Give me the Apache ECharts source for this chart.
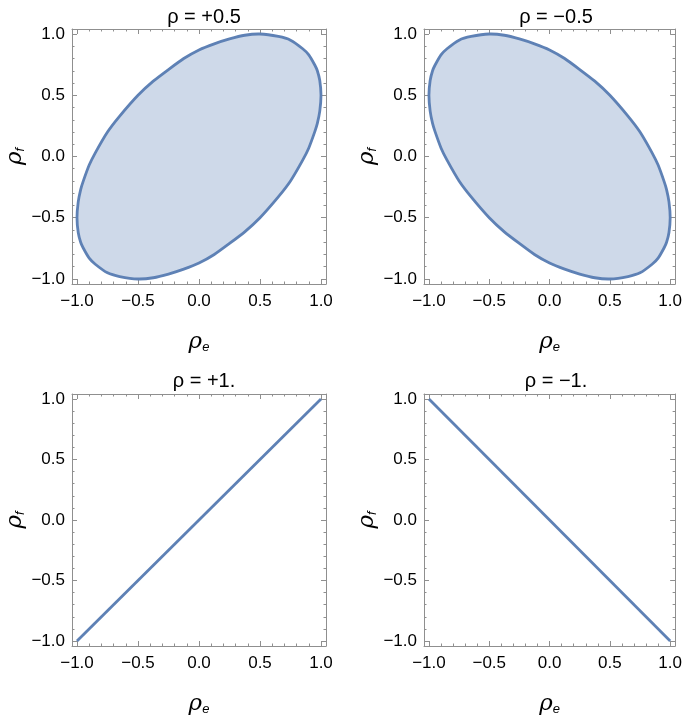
<!DOCTYPE html>
<html>
<head>
<meta charset="utf-8">
<script src="https://cdn.jsdelivr.net/npm/echarts@6/dist/echarts.min.js"></script>
<style>
html,body{margin:0;padding:0;background:#fff;}
#chart{width:685px;height:717px;}
</style>
</head>
<body>
<div id="chart"></div>
<script>
// ---- data ----
var panelTitles = ['\u03c1 = +0.5', '\u03c1 = \u22120.5', '\u03c1 = +1.', '\u03c1 = \u22121.'];
var majorTicks = [-1.0, -0.5, 0.0, 0.5, 1.0];
var minorTicks = [-0.9, -0.8, -0.7, -0.6, -0.4, -0.3, -0.2, -0.1, 0.1, 0.2, 0.3, 0.4, 0.6, 0.7, 0.8, 0.9];
// boundary of region, rho = +0.5  [rho_e, rho_f]
var ellipsePos = [[1.0,0.5],[0.99,0.62],[0.97,0.70],[0.95,0.745],[0.9,0.83],[0.85,0.88],[0.75,0.95],[0.65,0.98],[0.5,1.0],[0.375,0.99],[0.25,0.96],[0.125,0.92],[0,0.87],[-0.125,0.80],[-0.25,0.71],[-0.375,0.615],[-0.5,0.5],[-0.65,0.33],[-0.75,0.2],[-0.85,0.03],[-0.9,-0.07],[-0.95,-0.205],[-0.97,-0.27],[-0.99,-0.37],[-1.0,-0.5],[-0.99,-0.62],[-0.97,-0.70],[-0.95,-0.745],[-0.9,-0.83],[-0.85,-0.88],[-0.75,-0.95],[-0.65,-0.98],[-0.5,-1.0],[-0.375,-0.99],[-0.25,-0.96],[-0.125,-0.92],[0,-0.87],[0.125,-0.80],[0.25,-0.71],[0.375,-0.615],[0.5,-0.5],[0.65,-0.33],[0.75,-0.2],[0.85,-0.03],[0.9,0.07],[0.95,0.205],[0.97,0.27],[0.99,0.37]];
// boundary of region, rho = -0.5
var ellipseNeg = [[-1.0,0.5],[-0.99,0.62],[-0.97,0.70],[-0.95,0.745],[-0.9,0.83],[-0.85,0.88],[-0.75,0.95],[-0.65,0.98],[-0.5,1.0],[-0.375,0.99],[-0.25,0.96],[-0.125,0.92],[0,0.87],[0.125,0.80],[0.25,0.71],[0.375,0.615],[0.5,0.5],[0.65,0.33],[0.75,0.2],[0.85,0.03],[0.9,-0.07],[0.95,-0.205],[0.97,-0.27],[0.99,-0.37],[1.0,-0.5],[0.99,-0.62],[0.97,-0.70],[0.95,-0.745],[0.9,-0.83],[0.85,-0.88],[0.75,-0.95],[0.65,-0.98],[0.5,-1.0],[0.375,-0.99],[0.25,-0.96],[0.125,-0.92],[0,-0.87],[-0.125,-0.80],[-0.25,-0.71],[-0.375,-0.615],[-0.5,-0.5],[-0.65,-0.33],[-0.75,-0.2],[-0.85,-0.03],[-0.9,0.07],[-0.95,0.205],[-0.97,0.27],[-0.99,0.37]];
// degenerate cases
var linePos = [[-1.0,-1.0],[1.0,1.0]];
var lineNeg = [[-1.0,1.0],[1.0,-1.0]];

// ---- styling / layout ----
var LINE = '#5e81b5';
var FILL = 'rgba(94,129,181,0.30)';
var FRAME = '#8f8f8f';
var FONT = 'Liberation Sans, Arial, sans-serif';
var AX_MIN = -1.041, AX_MAX = 1.041;
var grids = [
  {left: 72, top: 29, width: 254, height: 255},
  {left: 424, top: 29, width: 254, height: 255},
  {left: 72, top: 394, width: 254, height: 254},
  {left: 424, top: 394, width: 254, height: 254}
];

function fmt(v) {
  var a = Math.abs(v).toFixed(1);
  return (v < -1e-9 ? '\u2212' : '') + a;
}

var xAxes = [], yAxes = [];
function addAxes(g) {
  var common = {type: 'value', gridIndex: g, min: AX_MIN, max: AX_MAX, splitLine: {show: false}};
  function ax(pos, isMain, major, withName, isX) {
    var a = Object.assign({}, common, {
      position: pos,
      axisLine: {show: isMain, onZero: false, lineStyle: {color: FRAME, width: 1}},
      axisTick: {show: true, inside: true, length: major ? 5 : 2.5,
        customValues: major ? majorTicks : minorTicks,
        lineStyle: {color: FRAME, width: 1}},
      axisLabel: {show: false},
      minorTick: {show: false}
    });
    if (withName) {
      a.axisLabel = {show: true, customValues: majorTicks, formatter: fmt,
        color: '#000', fontSize: 17, fontFamily: FONT, margin: isX ? 9 : 7};
      a.name = isX ? '{r|\u03c1}{s|e}' : '{r|\u03c1}{s|f}';
      a.nameLocation = 'middle';
      a.nameGap = isX ? 47 : 45;
      a.nameRotate = isX ? 0 : 90;
      a.nameTextStyle = {rich: {
        r: {fontSize: 23, fontStyle: 'italic', fontFamily: 'DejaVu Serif, serif', color: '#000'},
        s: {fontSize: 13, fontStyle: 'italic', fontFamily: FONT, color: '#000', verticalAlign: 'bottom', padding: [9, 0, 0, 0]}
      }};
    }
    return a;
  }
  xAxes.push(ax('bottom', true, true, true, true));
  xAxes.push(ax('bottom', false, false, false, true));
  xAxes.push(ax('top', true, true, false, true));
  xAxes.push(ax('top', false, false, false, true));
  yAxes.push(ax('left', true, true, true, false));
  yAxes.push(ax('left', false, false, false, false));
  yAxes.push(ax('right', true, true, false, false));
  yAxes.push(ax('right', false, false, false, false));
}
for (var g = 0; g < 4; g++) addAxes(g);

function polygonSeries(g, pts) {
  return {
    type: 'custom',
    xAxisIndex: g * 4, yAxisIndex: g * 4,
    data: pts,
    encode: {x: 0, y: 1},
    silent: true,
    clip: false,
    renderItem: function (params, api) {
      if (params.dataIndex !== 0) return null;
      var p = pts.map(function (d) { return api.coord(d); });
      return {
        type: 'polygon',
        shape: {points: p, smooth: 0.2},
        style: {fill: FILL, stroke: LINE, lineWidth: 2.8, lineJoin: 'round'}
      };
    }
  };
}
function lineSeries(g, pts) {
  return {
    type: 'line', xAxisIndex: g * 4, yAxisIndex: g * 4,
    data: pts, showSymbol: false, symbol: 'none', silent: true,
    lineStyle: {color: LINE, width: 2.8}, animation: false
  };
}

var titles = grids.map(function (gr, i) {
  return {
    text: panelTitles[i],
    left: gr.left + gr.width / 2, top: i < 2 ? 2 : 366,
    textAlign: 'center',
    textStyle: {fontSize: 20, fontWeight: 'normal', fontFamily: FONT, color: '#000'}
  };
});

var chart = echarts.init(document.getElementById('chart'), null, {renderer: 'canvas'});
chart.setOption({
  animation: false,
  backgroundColor: '#fff',
  title: titles,
  grid: grids.map(function (gr) { return Object.assign({containLabel: false}, gr); }),
  xAxis: xAxes,
  yAxis: yAxes,
  series: [
    polygonSeries(0, ellipsePos),
    polygonSeries(1, ellipseNeg),
    lineSeries(2, linePos),
    lineSeries(3, lineNeg)
  ]
});
</script>
</body>
</html>
